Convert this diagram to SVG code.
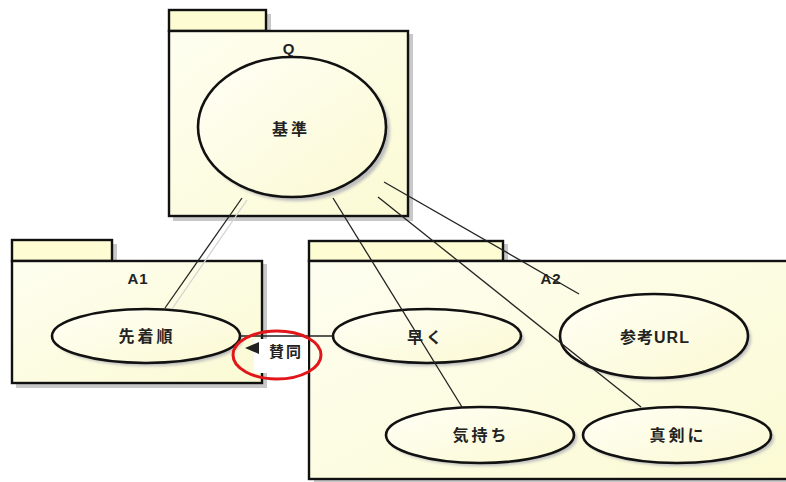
<svg xmlns="http://www.w3.org/2000/svg" width="786" height="482" viewBox="0 0 786 482">
  <style>
    .pkg { fill: url(#pkgFill); stroke: #111; stroke-width: 2.4; }
    .tab { fill: #fdfcd2; stroke: #111; stroke-width: 2.4; }
    .pshadow { fill: #c8c8c8; }
    .uc { fill: url(#ucFill); stroke: #111; stroke-width: 2.6; }
    .ushadow { fill: #bdbdbd; filter: url(#soft); }
    .lbl { font-family: "Liberation Sans", "Noto Sans CJK JP", sans-serif; font-size: 16px; font-weight: bold; fill: #222; text-anchor: middle; letter-spacing: 3px; }
    .pname { font-family: "Liberation Sans", "Noto Sans CJK JP", sans-serif; font-size: 15px; font-weight: bold; fill: #222; text-anchor: middle; letter-spacing: 1px; }
    .conn { stroke: #222; stroke-width: 1.3; fill: none; }
    .connShadow { stroke: #d4d4d4; stroke-width: 1.3; fill: none; }
  </style>
  <defs>
    <linearGradient id="pkgFill" x1="0" y1="0" x2="1" y2="1">
      <stop offset="0" stop-color="#fefef0"/>
      <stop offset="1" stop-color="#fbfad4"/>
    </linearGradient>
    <linearGradient id="ucFill" x1="0" y1="0" x2="1" y2="1">
      <stop offset="0" stop-color="#fffff6"/>
      <stop offset="1" stop-color="#fbf9d2"/>
    </linearGradient>
    <filter id="soft" x="-10%" y="-10%" width="120%" height="120%">
      <feGaussianBlur stdDeviation="1.5"/>
    </filter>
  </defs>

  <rect width="786" height="482" fill="#ffffff"/>

  <!-- package Q -->
  <g id="pkg-Q">
    <rect class="pshadow" x="173" y="34" width="240" height="187"/>
    <rect class="pshadow" x="173" y="14" width="98" height="20"/>
    <rect class="tab" x="169" y="10" width="97" height="21"/>
    <rect class="pkg" x="169" y="31" width="239" height="185"/>
    <text class="pname" x="289" y="54">Q</text>
  </g>

  <!-- package A1 -->
  <g id="pkg-A1">
    <rect class="pshadow" x="16" y="264" width="251" height="124"/>
    <rect class="pshadow" x="16" y="244" width="101" height="20"/>
    <rect class="tab" x="12" y="240" width="100" height="21"/>
    <rect class="pkg" x="12" y="261" width="250" height="122"/>
    <text class="pname" x="138" y="284">A1</text>
  </g>

  <!-- package A2 -->
  <g id="pkg-A2">
    <rect class="pshadow" x="314" y="264" width="480" height="220"/>
    <rect class="pshadow" x="312" y="244" width="196" height="20"/>
    <rect class="tab" x="309" y="241" width="194" height="20"/>
    <rect class="pkg" x="309" y="261" width="482" height="218"/>
    <text class="pname" x="551" y="284">A2</text>
  </g>

  <!-- use cases -->
  <g id="uc-kijun">
    <ellipse class="ushadow" cx="296" cy="131" rx="94" ry="70"/>
    <ellipse class="uc" cx="292" cy="127" rx="94" ry="70"/>
    <text class="lbl" x="291" y="135">基準</text>
  </g>

  <g id="uc-senchakujun">
    <ellipse class="ushadow" cx="149" cy="339" rx="94" ry="27"/>
    <ellipse class="uc" cx="146" cy="336" rx="94" ry="27"/>
    <text class="lbl" x="147" y="342">先着順</text>
  </g>

  <g id="uc-hayaku">
    <ellipse class="ushadow" cx="430" cy="339" rx="94" ry="27"/>
    <ellipse class="uc" cx="427" cy="336" rx="94" ry="27"/>
    <text class="lbl" x="426" y="343">早く</text>
  </g>

  <g id="uc-sankou-url">
    <ellipse class="ushadow" cx="657" cy="339" rx="94" ry="42"/>
    <ellipse class="uc" cx="654" cy="336" rx="94" ry="42"/>
    <text class="lbl" x="655" y="343" style="letter-spacing:1px">参考URL</text>
  </g>

  <g id="uc-kimochi">
    <ellipse class="ushadow" cx="483" cy="438" rx="94" ry="28"/>
    <ellipse class="uc" cx="480" cy="435" rx="94" ry="28"/>
    <text class="lbl" x="481" y="441">気持ち</text>
  </g>

  <g id="uc-shinken">
    <ellipse class="ushadow" cx="680" cy="438" rx="94" ry="28"/>
    <ellipse class="uc" cx="677" cy="435" rx="94" ry="28"/>
    <text class="lbl" x="678" y="441">真剣に</text>
  </g>

  <!-- connectors -->
  <g id="connectors">
    <line class="connShadow" x1="247" y1="200" x2="172" y2="309"/>
    <line class="conn" x1="242" y1="198" x2="165" y2="308"/>
    <line class="conn" x1="333" y1="198" x2="462" y2="407"/>
    <line class="conn" x1="378" y1="197" x2="641" y2="407"/>
    <line class="conn" x1="384" y1="182" x2="579" y2="294"/>
    <line class="conn" x1="240" y1="336" x2="333" y2="336"/>
    <!-- association name with reading direction -->
    <g id="assoc-label">
      <rect x="254" y="339" width="54" height="34" fill="#ffffff"/>
      <polygon points="245,348 259,342 259,354" fill="#222"/>
      <text class="lbl" x="286" y="357" style="font-size:15px;letter-spacing:2px">賛同</text>
    </g>
  </g>

  <!-- highlight ring -->
  <ellipse cx="277" cy="355" rx="44" ry="24" fill="none" stroke="#e0161b" stroke-width="3"/>
</svg>
